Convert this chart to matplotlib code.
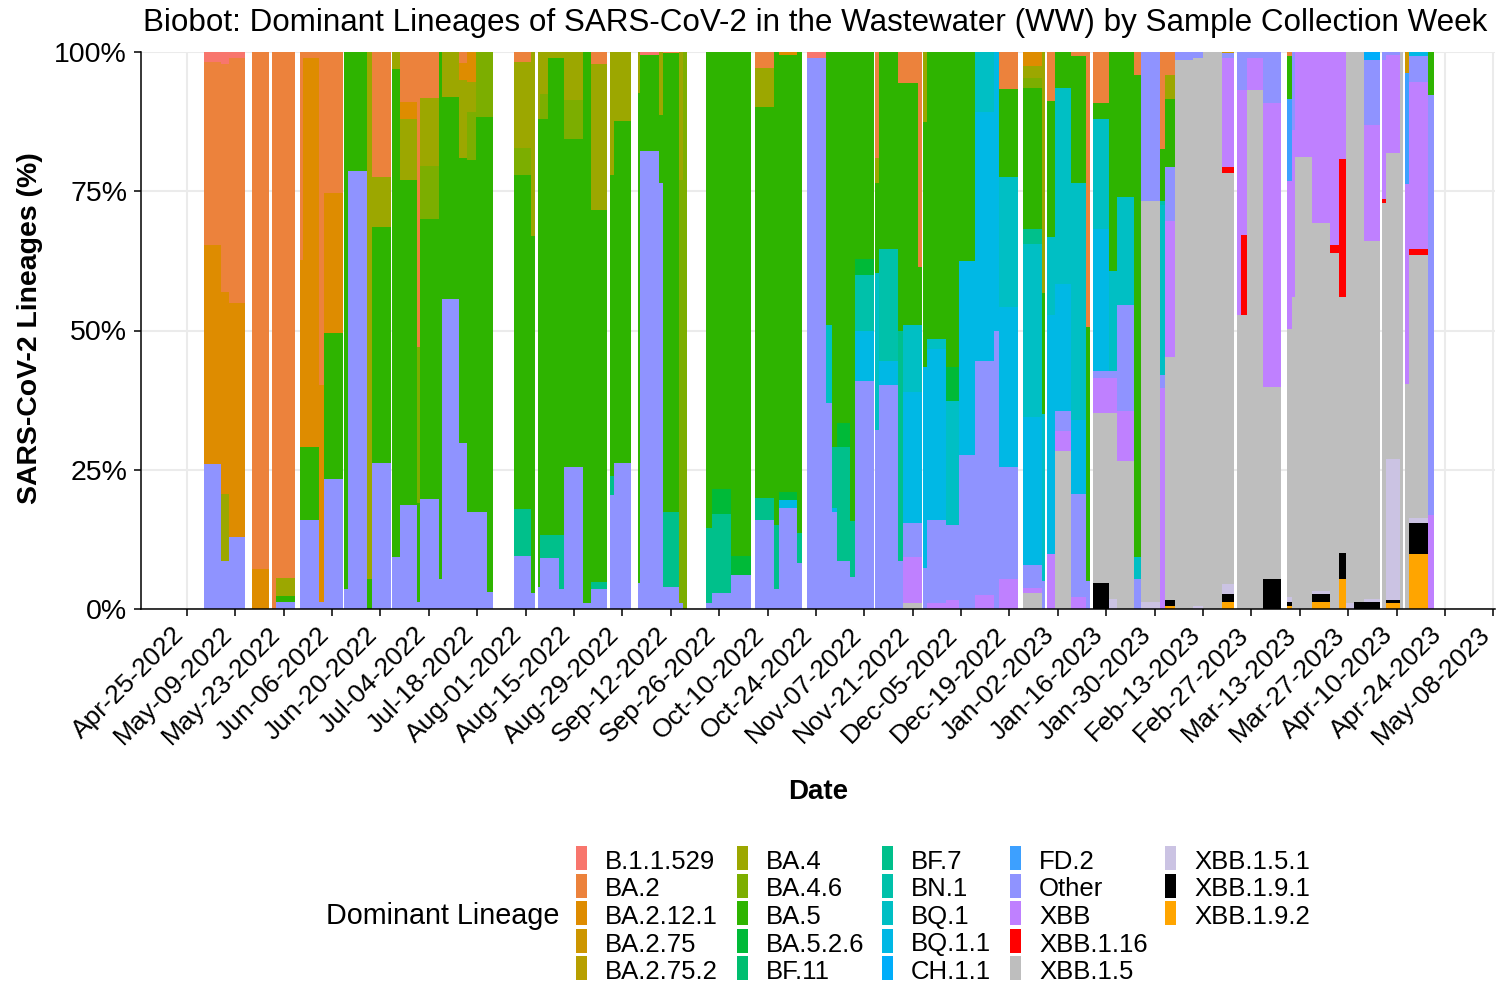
import numpy as np
import pandas as pd
import matplotlib
matplotlib.use("Agg")
import matplotlib.pyplot as plt
import matplotlib.dates as mdates
import matplotlib.transforms as mtransforms
from matplotlib.patches import Rectangle

plt.rcParams['font.family'] = ['Liberation Sans', 'DejaVu Sans']

# lineages in legend order (ggplot stacks the first level on top)
lineages = ["B.1.1.529", "BA.2", "BA.2.12.1", "BA.2.75", "BA.2.75.2",
            "BA.4", "BA.4.6", "BA.5", "BA.5.2.6", "BF.11",
            "BF.7", "BN.1", "BQ.1", "BQ.1.1", "CH.1.1",
            "FD.2", "Other", "XBB", "XBB.1.16", "XBB.1.5",
            "XBB.1.5.1", "XBB.1.9.1", "XBB.1.9.2"]
lineage_colors = ["#F8766D", "#EC823C", "#DE8C00", "#CD9600", "#B79F00",
                  "#9CA700", "#7CAE00", "#2EB400", "#00BA38", "#00BE70",
                  "#00C08B", "#00C1AA", "#00BFC4", "#00B8E5", "#00ADFA",
                  "#3DA0FF", "#8F93FF", "#BF80FF", "#FF0000", "#BEBEBE",
                  "#CBC3E3", "#000000", "#FFA500"]

# sample columns: start / end in days after 2022-04-25
col_start = [4.9, 9.8, 12.2, 18.8, 24.6, 25.8, 32.7, 33.6, 38.2, 39.6,
             45.4, 46.6, 52.1, 53.5, 59.3, 61.6, 66.6, 67.4, 72.9, 73.8,
             78.7, 81.0, 83.6, 86.8, 94.6, 99.6, 101.6, 102.2, 104.5, 107.7,
             109.1, 114.6, 116.9, 122.4, 123.6, 130.5, 131.1, 136.6, 137.8, 142.4,
             143.6, 150.2, 151.9, 157.4, 164.4, 169.9, 171.3, 176.5, 179.4, 184.9,
             186.7, 188.1, 191.9, 193.3, 199.1, 200.3, 205.8, 207.3, 211.6, 213.0,
             214.2, 219.7, 223.4, 228.0, 233.5, 235.0, 241.9, 247.4, 248.9, 251.2,
             255.8, 260.2, 262.2, 266.8, 269.1, 274.0, 276.1, 281.6, 283.0, 285.9,
             291.1, 294.0, 299.5, 303.9, 305.0, 306.6, 311.3, 318.4, 319.8, 320.7,
             325.6, 330.8, 333.4, 335.4, 337.7, 340.6, 345.9, 347.0, 351.1, 352.5,
             353.7, 359.2]
col_end = [9.8, 12.2, 16.8, 23.7, 25.8, 31.3, 33.6, 38.2, 39.6, 45.1,
           46.6, 52.1, 53.5, 59.0, 61.6, 66.6, 67.4, 72.9, 73.8, 78.7,
           81.0, 83.6, 86.8, 88.6, 99.6, 100.7, 102.2, 104.5, 107.7, 109.1,
           114.6, 116.9, 121.5, 123.6, 128.5, 131.1, 136.6, 137.8, 142.4, 143.6,
           144.8, 151.9, 157.4, 163.2, 169.9, 171.3, 176.5, 178.0, 184.9, 186.7,
           188.1, 191.9, 193.3, 198.8, 200.3, 205.8, 207.3, 211.6, 212.7, 214.2,
           219.7, 223.4, 228.0, 233.5, 235.0, 240.5, 247.4, 248.3, 251.2, 255.8,
           260.2, 261.3, 266.8, 269.1, 274.0, 276.1, 281.6, 283.0, 285.9, 291.1,
           294.0, 299.5, 303.0, 305.0, 306.6, 311.3, 316.5, 319.8, 320.7, 325.6,
           330.8, 333.4, 335.4, 337.7, 340.6, 345.3, 347.0, 351.1, 351.9, 353.7,
           359.2, 360.9]

col_lineages = [
    ("Other", "BA.2.12.1", "BA.2", "B.1.1.529"),
    ("Other", "BA.4", "BA.2.12.1", "BA.2", "B.1.1.529"),
    ("Other", "BA.2.12.1", "BA.2", "B.1.1.529"),
    ("BA.2.12.1", "BA.2"),
    ("BA.2",),
    ("Other", "BA.5", "BA.4", "BA.2"),
    ("Other", "BA.5", "BA.2.12.1", "BA.2"),
    ("Other", "BA.5", "BA.2.12.1", "BA.2"),
    ("Other", "BA.2.12.1", "BA.2"),
    ("Other", "BA.5", "BA.2.12.1", "BA.2"),
    ("Other", "BA.5"),
    ("Other", "BA.5"),
    ("BA.5", "BA.4"),
    ("Other", "BA.5", "BA.4", "BA.2"),
    ("Other", "BA.5", "BA.4"),
    ("Other", "BA.5", "BA.4", "BA.2.12.1", "BA.2"),
    ("Other", "BA.5", "BA.4.6", "BA.2"),
    ("Other", "BA.5", "BA.4.6", "BA.4", "BA.2"),
    ("Other", "BA.5"),
    ("Other", "BA.5", "BA.4"),
    ("Other", "BA.5", "BA.4", "BA.2.12.1", "BA.2"),
    ("Other", "BA.5", "BA.4.6", "BA.4", "BA.2.12.1"),
    ("Other", "BA.5", "BA.4.6"),
    ("Other", "BA.5", "BA.4.6"),
    ("Other", "BF.7", "BA.5", "BA.4.6", "BA.4", "BA.2"),
    ("Other", "BA.5", "BA.4"),
    ("Other", "BA.5", "BA.4"),
    ("Other", "BF.7", "BA.5", "BA.4.6", "BA.4"),
    ("Other", "BF.7", "BA.5", "BA.4"),
    ("Other", "BF.7", "BA.5", "BA.4"),
    ("Other", "BA.5", "BA.4.6", "BA.4"),
    ("Other", "BA.5"),
    ("Other", "BF.7", "BA.5", "BA.4", "BA.2"),
    ("Other", "BF.7", "BA.5", "BA.4"),
    ("Other", "BA.5", "BA.4"),
    ("Other", "BA.5", "BA.4"),
    ("Other", "BA.5", "B.1.1.529"),
    ("Other", "BA.5", "BA.4"),
    ("Other", "BF.7", "BA.5", "BA.2"),
    ("Other", "BA.4.6", "BA.4"),
    ("BA.4.6",),
    ("Other", "BF.7", "BA.5"),
    ("Other", "BF.7", "BA.5.2.6", "BA.5"),
    ("Other", "BA.5.2.6", "BA.5"),
    ("Other", "BF.7", "BA.5", "BA.4", "BA.2"),
    ("Other", "BF.7", "BA.5"),
    ("Other", "BQ.1.1", "BA.5.2.6", "BA.5", "BA.2.12.1"),
    ("Other", "BF.7", "BA.5"),
    ("Other", "B.1.1.529"),
    ("Other", "BQ.1", "BA.5"),
    ("Other", "BQ.1.1", "BF.7", "BA.5"),
    ("Other", "BF.7", "BA.5.2.6", "BA.5"),
    ("Other", "BF.7", "BA.5"),
    ("Other", "BQ.1.1", "BN.1", "BA.5.2.6", "BA.5"),
    ("Other", "BQ.1", "BA.5", "BA.4", "BA.2"),
    ("Other", "BQ.1.1", "BN.1", "BA.5"),
    ("Other", "BF.7", "BA.5", "BA.2"),
    ("XBB.1.5", "XBB", "Other", "BQ.1.1", "BQ.1", "BA.5", "BA.2"),
    ("XBB.1.5", "XBB", "Other", "BQ.1.1", "BQ.1", "BA.5", "BA.2"),
    ("Other", "BQ.1.1", "BA.5", "BA.4"),
    ("XBB", "Other", "BQ.1.1", "BQ.1", "BA.5"),
    ("XBB", "Other", "BQ.1", "BA.5.2.6", "BA.5"),
    ("Other", "BQ.1.1", "BA.5"),
    ("XBB", "Other", "BQ.1", "BQ.1.1"),
    ("Other", "BQ.1.1"),
    ("XBB", "Other", "BQ.1.1", "BQ.1", "BA.5", "BA.2"),
    ("XBB.1.5", "XBB", "Other", "BQ.1.1", "BQ.1", "BF.7", "BA.5", "BA.4.6", "BA.4", "BA.2.12.1"),
    ("Other", "BQ.1", "BA.5", "BA.4"),
    ("XBB", "BQ.1.1", "BQ.1", "BA.5", "BA.2"),
    ("XBB.1.5", "XBB", "Other", "BQ.1.1", "BQ.1", "BA.5"),
    ("XBB", "Other", "BQ.1.1", "BQ.1", "BA.5", "BA.2"),
    ("Other", "BA.5", "BA.2"),
    ("XBB.1.9.1", "XBB.1.5", "XBB", "Other", "BQ.1.1", "BQ.1", "BA.5", "BA.2"),
    ("XBB.1.5.1", "XBB.1.5", "XBB", "Other", "BQ.1", "BA.5"),
    ("XBB.1.5", "XBB", "Other", "BQ.1", "BA.5"),
    ("Other", "BQ.1", "BA.5", "BA.2"),
    ("XBB.1.5.1", "XBB.1.5", "Other"),
    ("XBB", "Other", "BQ.1", "BN.1", "BA.5", "BA.2"),
    ("XBB.1.9.2", "XBB.1.9.1", "XBB.1.5", "XBB", "Other", "BA.5", "BA.4", "BA.2"),
    ("XBB.1.5", "Other"),
    ("XBB.1.5.1", "XBB.1.5", "Other"),
    ("XBB.1.5",),
    ("XBB.1.9.2", "XBB.1.9.1", "XBB.1.5.1", "XBB.1.5", "XBB.1.16", "XBB", "Other", "BA.2.75"),
    ("XBB.1.5", "XBB", "Other"),
    ("XBB.1.5", "XBB.1.16", "XBB", "Other"),
    ("XBB.1.5", "XBB", "Other"),
    ("XBB.1.9.1", "XBB.1.5", "XBB", "Other"),
    ("XBB.1.9.2", "XBB.1.9.1", "XBB.1.5.1", "XBB.1.5", "XBB", "FD.2", "BA.5", "BA.2"),
    ("XBB.1.5", "XBB", "Other"),
    ("XBB.1.5", "XBB"),
    ("XBB.1.9.2", "XBB.1.9.1", "XBB.1.5.1", "XBB.1.5", "XBB"),
    ("XBB.1.5", "XBB.1.16", "XBB"),
    ("XBB.1.9.2", "XBB.1.9.1", "XBB.1.5", "XBB.1.16", "XBB"),
    ("XBB.1.5.1", "XBB.1.5"),
    ("XBB.1.9.1", "XBB.1.5"),
    ("XBB.1.9.1", "XBB.1.5.1", "XBB.1.5", "XBB", "Other", "CH.1.1"),
    ("XBB.1.5", "XBB.1.16", "XBB", "Other"),
    ("XBB.1.9.2", "XBB.1.9.1", "XBB.1.5.1", "XBB.1.5", "XBB", "Other"),
    ("XBB.1.5",),
    ("XBB.1.5", "XBB", "FD.2", "BA.2.75"),
    ("XBB.1.9.2", "XBB.1.9.1", "XBB.1.5.1", "XBB.1.5", "XBB.1.16", "XBB", "Other", "BQ.1.1"),
    ("XBB", "Other", "BA.5"),
]
col_shares = [
    (26, 39.4, 32.8, 1.8),
    (8.6, 12.1, 36.3, 40.9, 2.1),
    (12.9, 42.1, 43.9, 1.1),
    (7.1, 92.9),
    (100,),
    (1.3, 1.0, 3.3, 94.4),
    (16, 13, 33.6, 37.4),
    (16, 13, 70, 1),
    (1.3, 39, 59.7),
    (23.3, 26.2, 25.2, 25.3),
    (3.6, 96.4),
    (78.7, 21.3),
    (5.3, 94.7),
    (26.2, 42.4, 9.0, 22.4),
    (9.3, 87.7, 3.0),
    (18.6, 58.4, 11, 3, 9),
    (1.3, 17.8, 28, 52.9),
    (19.7, 50.3, 9.6, 12.2, 8.2),
    (5.3, 94.7),
    (55.7, 36.3, 8),
    (29.8, 51.2, 14, 3, 2),
    (17.5, 63.1, 8.6, 5.5, 5.3),
    (17.5, 70.9, 11.6),
    (3, 85.4, 11.6),
    (9.6, 8.3, 60, 4.9, 15.4, 1.8),
    (2.8, 64.2, 33),
    (4, 84, 12),
    (9.2, 4, 74.8, 4.5, 7.5),
    (9.2, 4, 85.8, 1),
    (3.6, 9.6, 85.8, 1),
    (25.5, 58.9, 7, 8.6),
    (1, 99),
    (3.6, 1.2, 66.8, 26.3, 2.1),
    (20.4, 3.4, 54.1, 22.1),
    (26.2, 61.5, 12.3),
    (4.6, 88, 7.4),
    (82.2, 17.3, 0.5),
    (76.5, 12.1, 11.4),
    (3.9, 13.6, 82.3, 0.2),
    (1, 76, 23),
    (100,),
    (1, 13.6, 85.4),
    (2.8, 14.3, 4.4, 78.5),
    (6.1, 3.5, 90.4),
    (16, 4, 70.2, 7, 2.8),
    (3.6, 11.4, 85),
    (18.2, 1.3, 1.5, 78.5, 0.5),
    (8.2, 5.4, 86.4),
    (99, 1),
    (37, 14, 49),
    (17.5, 0.7, 10.8, 71),
    (8.6, 20.4, 4.4, 66.6),
    (5.8, 10, 84.2),
    (40.9, 9, 10.1, 2.8, 37.2),
    (32.2, 28.1, 16.2, 4.5, 19),
    (40.2, 4.3, 20.1, 35.4),
    (8.6, 41.4, 44.5, 5.5),
    (1, 8.3, 6.1, 23.5, 12.1, 43.5, 5.5),
    (1, 8.3, 6.1, 23.5, 12.1, 10.4, 38.6),
    (7.4, 36, 44, 12.6),
    (1, 15, 30.7, 1.8, 51.5),
    (1.7, 13.4, 22.3, 6, 56.6),
    (27.6, 34.9, 37.5),
    (2.5, 42, 10.8, 44.7),
    (49.9, 50.1),
    (5.3, 20.2, 28.7, 23.4, 15.8, 6.6),
    (2.8, 0.9, 4.2, 26.6, 31.1, 2.6, 25.3, 1.8, 2.2, 2.5),
    (5, 30, 21.8, 43.2),
    (9.9, 42.8, 14.1, 24.4, 8.8),
    (28.4, 3.5, 3.6, 22.8, 35.2, 6.5),
    (2.1, 18.6, 13.3, 42.5, 22.8, 0.7),
    (5, 45.7, 49.3),
    (4.7, 30.5, 6.2, 1.3, 25.6, 19.7, 2.9, 9.1),
    (1.8, 33.4, 6.2, 1.3, 17.9, 39.4),
    (26.5, 9, 19, 19.4, 26.1),
    (5.4, 3.9, 86.6, 4.1),
    (1.3, 72, 26.7),
    (39.7, 2.3, 30.6, 0.7, 9.2, 17.5),
    (0.5, 1.2, 43.5, 24.4, 9.8, 12.1, 4.4, 4.1),
    (98.5, 1.5),
    (0.5, 98.5, 1),
    (100,),
    (1.3, 1.4, 1.8, 73.8, 1.1, 19.5, 0.9, 0.2),
    (52.8, 40.3, 6.9),
    (52.8, 14.4, 25.9, 6.9),
    (93.2, 5.7, 1.1),
    (5.3, 34.6, 51, 9.1),
    (0.5, 0.8, 0.9, 48.1, 26.6, 14.6, 7.8, 0.7),
    (56, 30, 14),
    (81.2, 18.8),
    (1.3, 1.4, 0.6, 66, 30.7),
    (64, 1.4, 34.6),
    (5.3, 4.7, 46, 24.8, 19.2),
    (1, 99),
    (1.3, 98.7),
    (1.3, 0.5, 64.3, 20.8, 11.6, 1.5),
    (72.9, 0.7, 24.9, 1.5),
    (1, 0.6, 25.3, 55, 17.6, 0.5),
    (100,),
    (40.4, 35.9, 20, 3.7),
    (9.8, 5.6, 0.9, 47.3, 1, 30.1, 4.6, 0.7),
    (16.9, 75.3, 7.8),
]

start_day = pd.Timestamp("2022-04-25")
tick_dates = pd.date_range("2022-04-25", "2023-05-08", freq="14D")
pct_ticks = [0, 25, 50, 75, 100]

W, H = 1496, 983
fig = plt.figure(figsize=(W / 100, H / 100), dpi=100)
ax = fig.add_axes([141 / W, 1 - 609 / H, 1354 / W, 557 / H])

x0 = mdates.date2num(start_day)
starts = x0 + np.array(col_start)
widths = np.array(col_end) - np.array(col_start)

# stack from the last level at the bottom to the first at the top
stack_order = lineages[::-1]
color_of = dict(zip(lineages, lineage_colors))
shares = np.zeros((len(stack_order), len(col_start)))
for j, (names, vals) in enumerate(zip(col_lineages, col_shares)):
    for name, v in zip(names, vals):
        shares[stack_order.index(name), j] = v
bottoms = np.vstack([np.zeros(len(col_start)), np.cumsum(shares, axis=0)[:-1]])

for i, name in enumerate(stack_order):
    m = shares[i] > 0
    if not m.any():
        continue
    ax.bar(starts[m], shares[i][m], width=widths[m], bottom=bottoms[i][m],
           align='edge', color=color_of[name], linewidth=0, antialiased=False)

ax.set_xlim(x0 - 13.3, x0 + 378.5)
ax.set_ylim(0, 100)
ax.set_yticks(pct_ticks)
ax.set_yticklabels([f"{p}%" for p in pct_ticks])
ax.set_xticks(mdates.date2num(tick_dates))
ax.set_xticklabels([d.strftime("%b-%d-%Y") for d in tick_dates])
ax.tick_params(axis='both', length=5, width=1.1, color='black',
               labelsize=20.5, pad=5, labelcolor='black')
ax.tick_params(axis='x', labelsize=19)
# anchor the rotated labels at the end of their baseline, just left of the tick
shift = mtransforms.ScaledTranslation(-2 / 100, -13 / 100, fig.dpi_scale_trans)
for lab in ax.get_xticklabels():
    lab.set_rotation(45)
    lab.set_ha('right')
    lab.set_va('baseline')
    lab.set_rotation_mode('anchor')
    lab.set_transform(lab.get_transform() + shift)
ax.grid(True, color='#EBEBEB', linewidth=1.5)
ax.set_axisbelow(True)
for s in ['top', 'right']:
    ax.spines[s].set_visible(False)
for s in ['left', 'bottom']:
    ax.spines[s].set_linewidth(1.1)
    ax.spines[s].set_color('black')

fig.text(143 / W, 1 - 31 / H,
         "Biobot: Dominant Lineages of SARS-CoV-2 in the Wastewater (WW) by Sample Collection Week",
         fontsize=22.6, ha='left', va='baseline')
fig.text(30 / W, 1 - 328 / H, "SARS-CoV-2 Lineages (%)", rotation=90,
         fontsize=20.4, fontweight='bold', ha='center', va='center')
fig.text(818 / W, 1 - 792 / H, "Date", fontsize=20, fontweight='bold',
         ha='center', va='center')

# legend: 5 columns, filled column by column
key_x = [576, 737, 882, 1010, 1165]
row_y = [858, 885.5, 913, 940.5, 968]
for k, (name, col) in enumerate(zip(lineages, lineage_colors)):
    kx = key_x[k // 5]
    ry = row_y[k % 5]
    fig.add_artist(Rectangle((kx / W, 1 - (ry + 12) / H), 11 / W, 24 / H,
                             transform=fig.transFigure, color=col, lw=0))
    fig.text((kx + 29) / W, 1 - (ry + 11) / H, name, fontsize=18.5,
             ha='left', va='baseline')
fig.text(559 / W, 1 - 924 / H, "Dominant Lineage", fontsize=20.7,
         ha='right', va='baseline')

fig.savefig("out.png", dpi=100)
